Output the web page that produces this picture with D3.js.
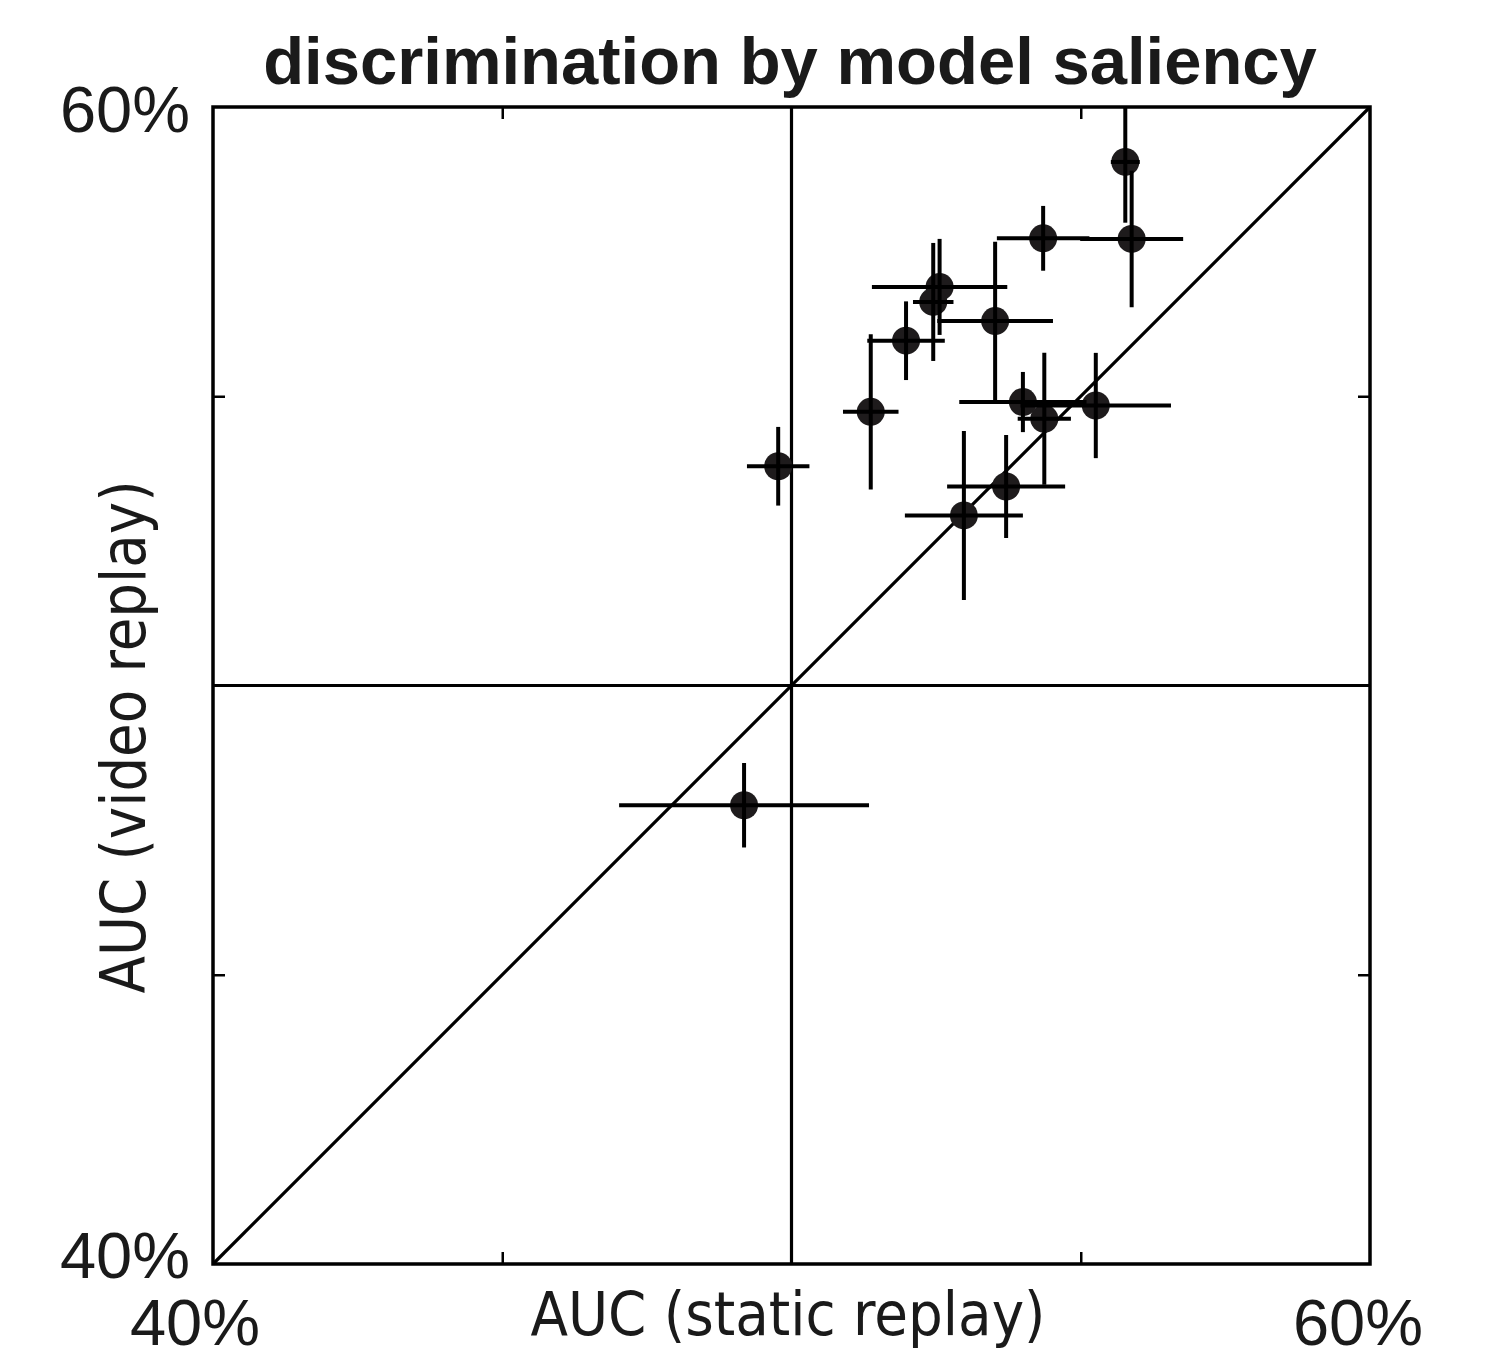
<!DOCTYPE html>
<html>
<head>
<meta charset="utf-8">
<script src="https://cdn.jsdelivr.net/npm/d3@7"></script>
<style>
  body { margin: 0; background: #fff; }
  .axis path, .axis line { stroke: #000; }
  .tick-label { font-family: "Liberation Sans", Arial, sans-serif; font-size: 65px; fill: #1a1a1a; }
  .axis-label { font-family: "DejaVu Sans Condensed", "DejaVu Sans", sans-serif; font-size: 60px; fill: #1a1a1a; }
  .plotTitle { font-family: "Liberation Sans", Arial, sans-serif; font-size: 67px; font-weight: bold; fill: #1a1a1a; }
</style>
</head>
<body>
<svg id="main" width="1490" height="1359"></svg>
<script>
// AUC values per subject (static replay on x, video replay on y) with error bars
const staticAUC = [0.5577, 0.5588, 0.5435, 0.5256, 0.5245, 0.5352, 0.5198, 0.5137,
                   0.5400, 0.5526, 0.5437, 0.5371, 0.5298, 0.4977, 0.4918]
const videoAUC  = [0.5905, 0.5772, 0.5773, 0.5689, 0.5663, 0.5630, 0.5596, 0.5473,
                   0.5490, 0.5484, 0.5461, 0.5344, 0.5294, 0.5379, 0.4793]
const staticErr = [0.0025, 0.0089, 0.0080, 0.0117, 0.0035, 0.0100, 0.0067, 0.0048,
                   0.0110, 0.0130, 0.0046, 0.0102, 0.0102, 0.0054, 0.0216]
const videoErr  = [0.0105, 0.0118, 0.0056, 0.0083, 0.0102, 0.0137, 0.0068, 0.0134,
                   0.0052, 0.0091, 0.0114, 0.0089, 0.0146, 0.0068, 0.0073]
const axisDomain = [0.40, 0.60]
const minorTicks = [0.45, 0.55]
const endLabels = ["40%", "60%"]

const plotLeft = 213, plotRight = 1370, plotTop = 107, plotBottom = 1264

let xScale = d3.scaleLinear().domain(axisDomain).range([plotLeft, plotRight])
let yScale = d3.scaleLinear().domain(axisDomain).range([plotBottom, plotTop])

let svg = d3.select("#main")

let plot = svg.append("g")
plot.append("clipPath").attr("id", "clip")
    .append("rect")
    .attr("x", plotLeft).attr("y", plotTop)
    .attr("width", plotRight - plotLeft).attr("height", plotBottom - plotTop)

// small inward ticks on all four sides
let tickLen = 12
svg.append("g").attr("class", "axis")
    .attr("transform", `translate(0,${plotBottom})`)
    .call(d3.axisBottom(xScale).tickValues(minorTicks).tickSizeInner(-tickLen).tickSizeOuter(0).tickFormat(""))
svg.append("g").attr("class", "axis")
    .attr("transform", `translate(0,${plotTop})`)
    .call(d3.axisTop(xScale).tickValues(minorTicks).tickSizeInner(-tickLen).tickSizeOuter(0).tickFormat(""))
svg.append("g").attr("class", "axis")
    .attr("transform", `translate(${plotLeft},0)`)
    .call(d3.axisLeft(yScale).tickValues(minorTicks).tickSizeInner(-tickLen).tickSizeOuter(0).tickFormat(""))
svg.append("g").attr("class", "axis")
    .attr("transform", `translate(${plotRight},0)`)
    .call(d3.axisRight(yScale).tickValues(minorTicks).tickSizeInner(-tickLen).tickSizeOuter(0).tickFormat(""))
svg.selectAll(".axis line").attr("stroke-width", 2.5)
svg.selectAll(".axis path").remove()

// cross hairs at chance level and the diagonal
let refs = [
    [[0.5, axisDomain[0]], [0.5, axisDomain[1]]],
    [[axisDomain[0], 0.5], [axisDomain[1], 0.5]],
    [[axisDomain[0], axisDomain[0]], [axisDomain[1], axisDomain[1]]]
]
plot.selectAll(".ref")
    .data(refs)
    .enter()
    .append("line")
    .attr("x1", d => xScale(d[0][0])).attr("y1", d => yScale(d[0][1]))
    .attr("x2", d => xScale(d[1][0])).attr("y2", d => yScale(d[1][1]))
    .attr("stroke", "#000")
    .attr("stroke-width", 3.2)

// markers
let pts = plot.append("g").attr("clip-path", "url(#clip)")
pts.selectAll(".markers")
    .data(staticAUC)
    .enter()
    .append("circle")
    .attr("cx", (d, i) => xScale(staticAUC[i]))
    .attr("cy", (d, i) => yScale(videoAUC[i]))
    .attr("r", 14)
    .style("fill", "#1e1b1c")

// error bars
pts.selectAll(".xerr")
    .data(staticAUC)
    .enter()
    .append("line")
    .attr("x1", (d, i) => xScale(staticAUC[i] - staticErr[i]))
    .attr("x2", (d, i) => xScale(staticAUC[i] + staticErr[i]))
    .attr("y1", (d, i) => yScale(videoAUC[i]))
    .attr("y2", (d, i) => yScale(videoAUC[i]))
    .attr("stroke", "#000").attr("stroke-width", 4)
pts.selectAll(".yerr")
    .data(staticAUC)
    .enter()
    .append("line")
    .attr("x1", (d, i) => xScale(staticAUC[i]))
    .attr("x2", (d, i) => xScale(staticAUC[i]))
    .attr("y1", (d, i) => yScale(videoAUC[i] - videoErr[i]))
    .attr("y2", (d, i) => yScale(videoAUC[i] + videoErr[i]))
    .attr("stroke", "#000").attr("stroke-width", 4)

// frame
svg.append("rect")
    .attr("x", plotLeft).attr("y", plotTop)
    .attr("width", plotRight - plotLeft).attr("height", plotBottom - plotTop)
    .attr("fill", "none")
    .attr("stroke", "#000")
    .attr("stroke-width", 3.5)

// end labels only
svg.append("text").attr("class", "tick-label")
    .attr("x", plotLeft - 23).attr("y", yScale(axisDomain[1]) + 25)
    .attr("text-anchor", "end").text(endLabels[1])
svg.append("text").attr("class", "tick-label")
    .attr("x", plotLeft - 23).attr("y", yScale(axisDomain[0]) + 14)
    .attr("text-anchor", "end").text(endLabels[0])
svg.append("text").attr("class", "tick-label")
    .attr("x", xScale(axisDomain[0]) - 18).attr("y", 1345)
    .attr("text-anchor", "middle").text(endLabels[0])
svg.append("text").attr("class", "tick-label")
    .attr("x", xScale(axisDomain[1]) - 12).attr("y", 1345)
    .attr("text-anchor", "middle").text(endLabels[1])

// axis labels
svg.append("text").attr("class", "axis-label")
    .attr("x", 788).attr("y", 1335)
    .attr("text-anchor", "middle")
    .attr("textLength", 515).attr("lengthAdjust", "spacingAndGlyphs")
    .text("AUC (static replay)")
svg.append("g")
    .attr("transform", `translate(145,737) rotate(270)`)
    .append("text").attr("class", "axis-label")
    .style("font-size", "63px")
    .attr("text-anchor", "middle")
    .attr("textLength", 513).attr("lengthAdjust", "spacingAndGlyphs")
    .text("AUC  (video replay)")

// title
svg.append("text").attr("class", "plotTitle")
    .attr("x", 790).attr("y", 84)
    .attr("text-anchor", "middle")
    .text("discrimination by model saliency")
</script>
</body>
</html>
